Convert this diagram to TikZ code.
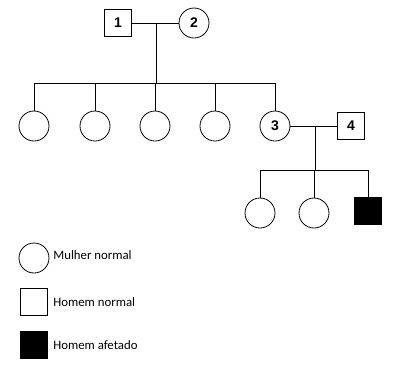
\documentclass[tikz,border=0pt]{standalone}
\usepackage{fontspec}
\setmainfont{Carlito}
\newfontfamily\numfont{Liberation Sans}
\begin{document}
\begin{tikzpicture}[x=1pt,y=-1pt,
  line width=0.8pt,
  fem/.style={draw, circle, minimum size=30pt, inner sep=0pt, font=\numfont\bfseries\fontsize{14}{14}\selectfont},
  male/.style={draw, rectangle, minimum size=27pt, inner sep=0pt, font=\numfont\bfseries\fontsize{14}{14}\selectfont},
  affected/.style={male, fill=black},
  legtext/.style={anchor=west, inner sep=0pt, font=\fontsize{12.8}{14}\selectfont}
]
\useasboundingbox (0,0) rectangle (400,368);
% generation I
\node[male] (p1) at (118,23) {1};
\node[fem] (p2) at (194,23) {2};
\coordinate (m1) at (156,23);
\coordinate (s1) at (156,83);
% generation II
\node[fem] (c1) at (34,126) {};
\node[fem] (c2) at (95,126) {};
\node[fem] (c3) at (155,126) {};
\node[fem] (c4) at (215,126) {};
\node[fem] (p3) at (275,126) {3};
\node[male] (p4) at (351,126) {4};
\coordinate (m2) at (315,126);
\coordinate (s2) at (315,170);
% generation III
\node[fem] (d1) at (260,213) {};
\node[fem] (d2) at (314,213) {};
\node[affected] (d3) at (368,211) {};
% connectors
\draw (p1) -- (p2);
\draw (m1) -- (s1);
\draw (c1.north |- s1) -- (p3.north |- s1);
\foreach \c in {c1,c2,c3,c4,p3} \draw (\c.north |- s1) -- (\c.north);
\draw (p3) -- (p4);
\draw (m2) -- (s2);
\draw (d1.north |- s2) -- (d3.north |- s2);
\foreach \c in {d1,d2,d3} \draw (\c.north |- s2) -- (\c.north);
% legend
\node[fem] (l1) at (34,258) {};
\node[male] (l2) at (34,302) {};
\node[affected] (l3) at (34,345) {};
\node[legtext] (t1) at (53,255) {Mulher normal};
\node[legtext] (t2) at (53,302) {Homem normal};
\node[legtext] (t3) at (53,345) {Homem afetado};
\end{tikzpicture}
\end{document}
